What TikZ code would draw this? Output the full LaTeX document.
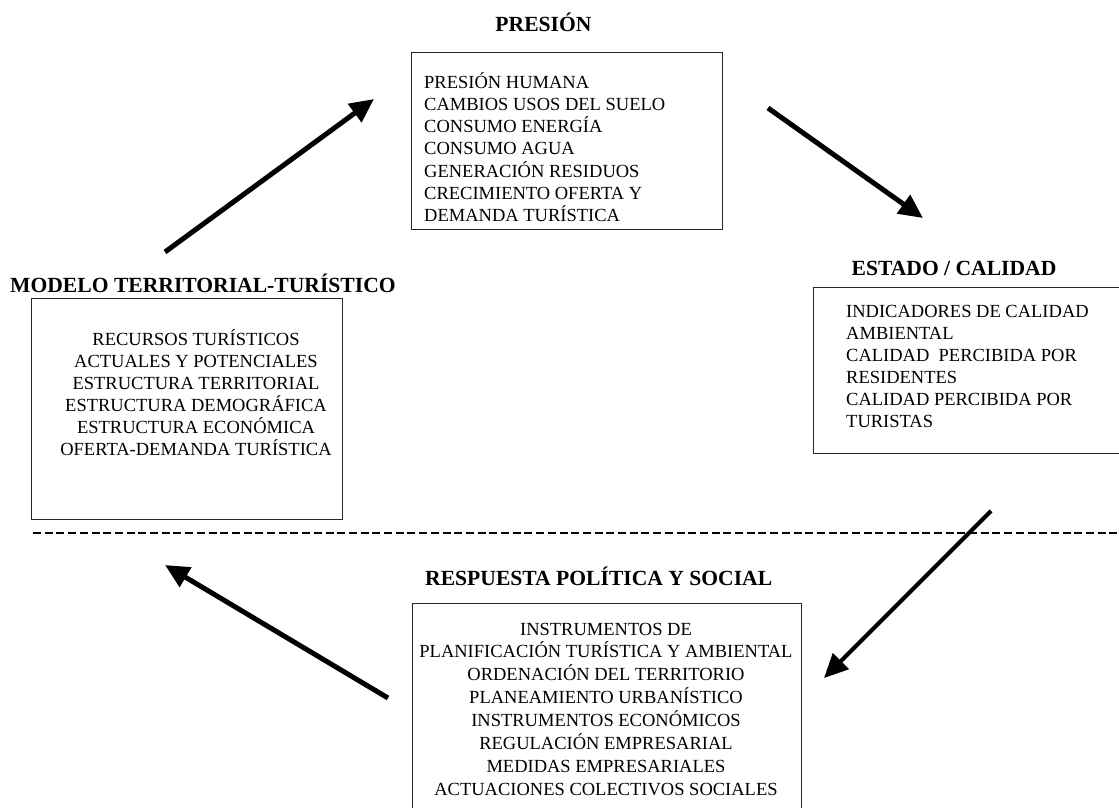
\documentclass[tikz,border=0pt]{standalone}
\usepackage{fontspec}
\setmainfont{Liberation Serif}
\usetikzlibrary{arrows.meta}
\begin{document}
\begin{tikzpicture}[x=1pt,y=-1pt,
  box/.style={draw=black!85, line width=1.4pt, inner sep=0pt, anchor=north west},
  titletext/.style={font=\fontsize{21.6}{26}\selectfont\bfseries, inner sep=0pt},
  bodytext/.style={font=\fontsize{18.5}{22}\selectfont, inner sep=0pt},
  bigarrow/.style={line width=5pt, -{Triangle[length=24pt,width=22pt]}},
  sep/.style={line width=2pt, dash pattern=on 8pt off 3.7pt}]
\useasboundingbox (0,0) rectangle (1119,807);
% boxes
\node[box, minimum width=311.3pt, minimum height=177pt] (pbox) at (410.7,52) {};
\node[box, minimum width=310pt, minimum height=166pt] (ebox) at (813,287) {};
\node[box, minimum width=311pt, minimum height=221pt] (mbox) at (31,298) {};
\node[box, minimum width=389pt, minimum height=215pt] (rbox) at (412,603) {};
% titles
\node[titletext, anchor=base] (ptitle) at (543.5,31) {PRESIÓN};
\node[titletext, anchor=base] (etitle) at (954,275) {ESTADO / CALIDAD};
\node[titletext, anchor=base west] (mtitle) at (10,292) {MODELO TERRITORIAL-TURÍSTICO};
\node[titletext, anchor=base west] (rtitle) at (425,585) {RESPUESTA POLÍTICA Y SOCIAL};
% body texts
\foreach \t [count=\i] in {PRESIÓN HUMANA,CAMBIOS USOS DEL SUELO,CONSUMO ENERGÍA,CONSUMO AGUA,GENERACIÓN RESIDUOS,CRECIMIENTO OFERTA Y,DEMANDA TURÍSTICA}
  \node[bodytext, anchor=base west] (pl\i) at (424,{88+22.3*(\i-1)}) {\t};
\foreach \t [count=\i] in {INDICADORES DE CALIDAD,AMBIENTAL,CALIDAD\ \ PERCIBIDA POR,RESIDENTES,CALIDAD PERCIBIDA POR,TURISTAS}
  \node[bodytext, anchor=base west] (el\i) at (846,{317+22*(\i-1)}) {\t};
\foreach \t [count=\i] in {RECURSOS TURÍSTICOS,ACTUALES Y POTENCIALES,ESTRUCTURA TERRITORIAL,ESTRUCTURA DEMOGRÁFICA,ESTRUCTURA ECONÓMICA,OFERTA-DEMANDA TURÍSTICA}
  \node[bodytext, anchor=base] (ml\i) at (196,{345+22*(\i-1)}) {\t};
\foreach \t [count=\i] in {INSTRUMENTOS DE,PLANIFICACIÓN TURÍSTICA Y AMBIENTAL,ORDENACIÓN DEL TERRITORIO,PLANEAMIENTO URBANÍSTICO,INSTRUMENTOS ECONÓMICOS,REGULACIÓN EMPRESARIAL,MEDIDAS EMPRESARIALES,ACTUACIONES COLECTIVOS SOCIALES}
  \node[bodytext, anchor=base] (rl\i) at (606,{635+22.86*(\i-1)}) {\t};
% dashed separator
\coordinate (d1) at (33,533);
\coordinate (d2) at (1119,533);
\draw[sep] (d1) -- (d2);
% arrows
\coordinate (a1s) at (165,252);
\coordinate (a1e) at (374,99);
\coordinate (a2s) at (768,108);
\coordinate (a2e) at (923,218);
\coordinate (a3s) at (991,511);
\coordinate (a3e) at (824,678);
\coordinate (a4s) at (388,698);
\coordinate (a4e) at (165,565);
\draw[bigarrow] (a1s) -- (a1e);
\draw[bigarrow] (a2s) -- (a2e);
\draw[bigarrow, line width=4pt] (a3s) -- (a3e);
\draw[bigarrow] (a4s) -- (a4e);
\end{tikzpicture}
\end{document}
